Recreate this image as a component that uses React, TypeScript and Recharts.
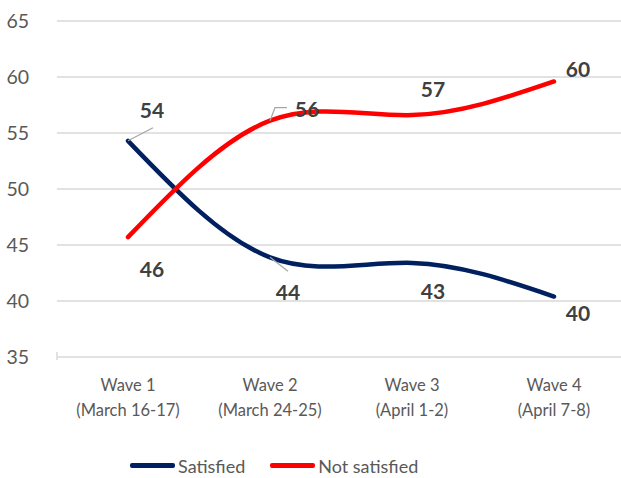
import React from "react";
import {
  LineChart,
  Line,
  XAxis,
  YAxis,
  CartesianGrid,
  Legend,
  LabelList,
} from "recharts";

const waves = ["Wave 1", "Wave 2", "Wave 3", "Wave 4"];
const waveDates = ["(March 16-17)", "(March 24-25)", "(April 1-2)", "(April 7-8)"];
const satisfied = [54.3, 43.9, 43.4, 40.4];
const notSatisfied = [45.7, 56.1, 56.6, 59.6];
const yTicks = [35, 40, 45, 50, 55, 60, 65];

const NAVY = "#002060";
const RED = "#ff0000";
const FONT = "Lato, 'Open Sans', sans-serif";

const data = waves.map((w, i) => ({
  wave: w,
  dates: waveDates[i],
  satisfied: satisfied[i],
  notSatisfied: notSatisfied[i],
}));

// label placement relative to each point, plus optional leader polyline
type LabelSpot = { dx: number; dy: number; leader?: [number, number][] };

const satisfiedSpots: LabelSpot[] = [
  { dx: 24, dy: -31, leader: [[0, 0], [25, -13]] },
  { dx: 18, dy: 34, leader: [[0, 0], [18, 14]] },
  { dx: 21, dy: 28 },
  { dx: 24, dy: 16 },
];

const notSatisfiedSpots: LabelSpot[] = [
  { dx: 24, dy: 31 },
  { dx: 37, dy: -12, leader: [[0, 0], [5, -13], [17, -13]] },
  { dx: 21, dy: -27 },
  { dx: 24, dy: -13 },
];

const makeLabel = (spots: LabelSpot[]) => (props: any) => {
  const { x, y, value, index } = props;
  const s = spots[index];
  if (!s) return null;
  return (
    <g>
      {s.leader && (
        <polyline
          points={s.leader.map(([a, b]) => `${x + a},${y + b}`).join(" ")}
          fill="none"
          stroke="#a6a6a6"
          strokeWidth={1.2}
        />
      )}
      <text
        x={x + s.dx}
        y={y + s.dy}
        textAnchor="middle"
        dominantBaseline="central"
        fontFamily={FONT}
        fontWeight={700}
        fontSize={21}
        fill="#404040"
      >
        {Math.round(value)}
      </text>
    </g>
  );
};

const WaveTick = (props: any) => {
  const { x, y, payload, index } = props;
  return (
    <g>
      {index === 0 && (
        <line x1={x - 71} y1={y - 5} x2={x - 71} y2={y + 3} stroke="#d9d9d9" strokeWidth={1.5} />
      )}
      <text textAnchor="middle" fontFamily={FONT} fontSize={16.5} fill="#595959">
        <tspan x={x} y={y + 34}>{payload.value}</tspan>
        <tspan x={x} y={y + 59}>{waveDates[index]}</tspan>
      </text>
    </g>
  );
};

const LegendContent = () => (
  <div
    style={{
      height: 31,
      boxSizing: "border-box",
      paddingTop: 6,
      display: "flex",
      alignItems: "center",
      paddingLeft: 130,
      fontFamily: FONT,
      fontSize: 18,
      color: "#595959",
    }}
  >
    {[
      { name: "Satisfied", color: NAVY },
      { name: "Not satisfied", color: RED },
    ].map((item) => (
      <div key={item.name} style={{ display: "flex", alignItems: "center", marginRight: 25 }}>
        <div style={{ width: 45, height: 4.5, borderRadius: 2, background: item.color, marginRight: 3 }} />
        <span>{item.name}</span>
      </div>
    ))}
  </div>
);

export default function App() {
  return (
    <div
      style={{
        position: "fixed",
        left: 0,
        top: 0,
        width: 621,
        height: 478,
        overflow: "hidden",
        background: "#fff",
      }}
    >
      <LineChart
        width={625}
        height={478}
        data={data}
        margin={{ top: 21, right: 0, bottom: 0, left: 0 }}
      >
        <CartesianGrid vertical={false} stroke="#d9d9d9" strokeWidth={1.5} />
        <XAxis
          dataKey="wave"
          axisLine={false}
          tickLine={false}
          tickSize={0}
          tickMargin={0}
          height={90}
          padding={{ left: 71, right: 71 }}
          tick={<WaveTick />}
          interval={0}
        />
        <YAxis
          domain={[35, 65]}
          ticks={yTicks}
          width={57}
          axisLine={false}
          tickLine={false}
          tickSize={20}
          tickMargin={8}
          tick={{ fontFamily: FONT, fontSize: 19.5, fill: "#595959" }}
        />
        <Legend verticalAlign="bottom" content={<LegendContent />} />
        <Line
          type="natural"
          dataKey="satisfied"
          name="Satisfied"
          stroke={NAVY}
          strokeWidth={4.5}
          strokeLinecap="round"
          dot={false}
          isAnimationActive={false}
        >
          <LabelList dataKey="satisfied" content={makeLabel(satisfiedSpots)} />
        </Line>
        <Line
          type="natural"
          dataKey="notSatisfied"
          name="Not satisfied"
          stroke={RED}
          strokeWidth={4.5}
          strokeLinecap="round"
          dot={false}
          isAnimationActive={false}
        >
          <LabelList dataKey="notSatisfied" content={makeLabel(notSatisfiedSpots)} />
        </Line>
      </LineChart>
    </div>
  );
}
